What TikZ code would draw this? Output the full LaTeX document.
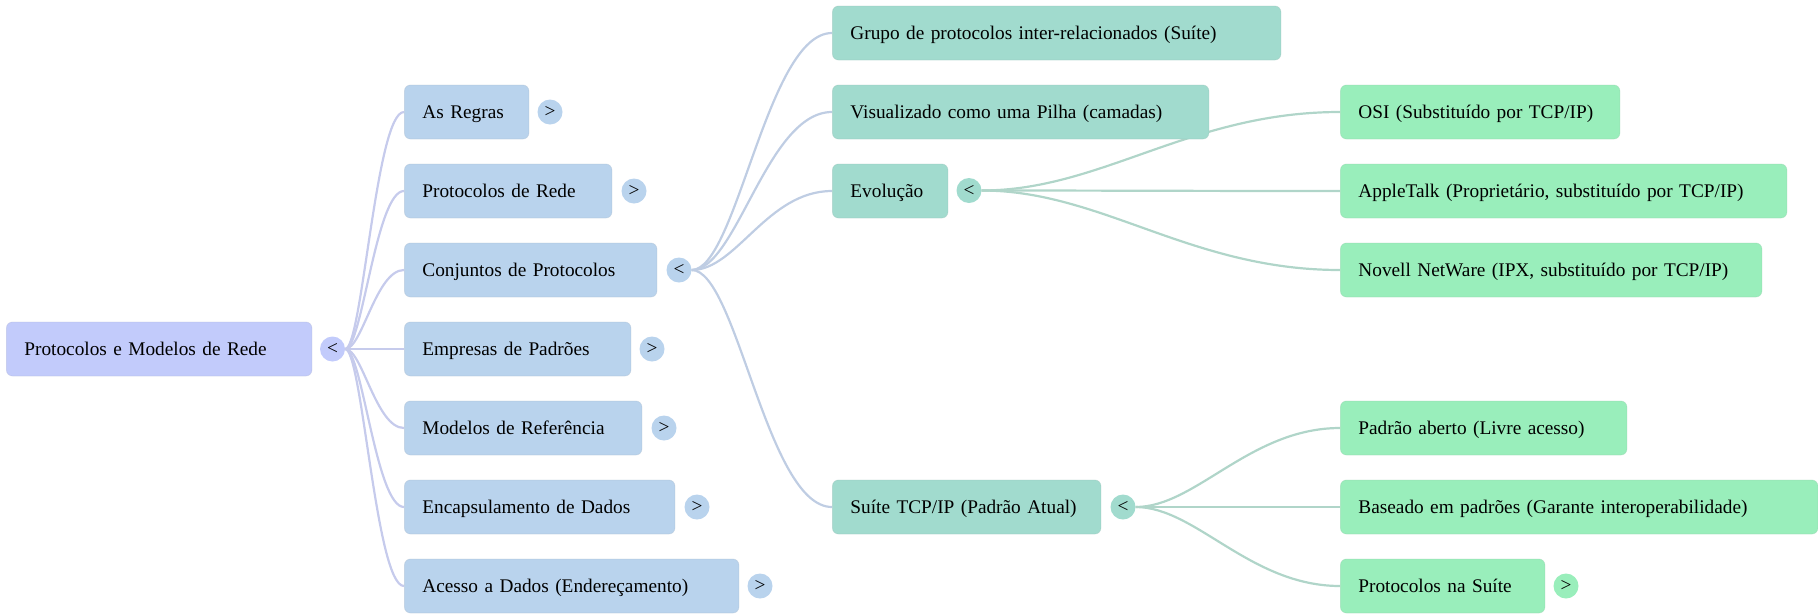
\documentclass[tikz,border=0pt]{standalone}
\usepackage{fontspec}
\setmainfont{Liberation Serif}
\definecolor{rootc}{HTML}{C2CBFB}
\definecolor{lonec}{HTML}{B9D3ED}
\definecolor{ltwoc}{HTML}{A1DBCE}
\definecolor{lthrc}{HTML}{99EEBB}
\definecolor{edgea}{HTML}{C6CBEC}
\definecolor{edgeb}{HTML}{BFCDE3}
\definecolor{edgec}{HTML}{B0D5C9}
\tikzset{
  box/.style={rectangle,rounded corners=6pt,anchor=west,minimum height=54pt,inner xsep=0pt,inner ysep=0pt,
    draw opacity=.35,line width=.8pt,align=left,font=\fontsize{19.3}{22}\selectfont,text height=16pt,text depth=4pt},
  rootbox/.style={box,fill=rootc,draw=rootc!70!gray},
  onebox/.style={box,fill=lonec,draw=lonec!70!gray},
  twobox/.style={box,fill=ltwoc,draw=ltwoc!70!gray},
  thrbox/.style={box,fill=lthrc,draw=lthrc!70!gray},
  tog/.style={circle,minimum size=25pt,inner sep=0pt,font=\fontsize{19.3}{22}\selectfont},
  rtog/.style={tog,fill=rootc},
  otog/.style={tog,fill=lonec},
  ttog/.style={tog,fill=ltwoc},
  hsg/.style={tog,fill=lthrc},
  edgeA/.style={draw=edgea,line width=2.2pt,out=0,in=180,out distance=17pt,in distance=28pt},
  edgeB/.style={draw=edgeb,line width=2.2pt,out=0,in=180,out distance=45pt,in distance=65pt},
  edgeC/.style={draw=edgec,line width=2.2pt,out=0,in=180,out distance=120pt,in distance=150pt},
  edgeD/.style={draw=edgec,line width=2.2pt,out=0,in=180,out distance=60pt,in distance=90pt},
}
\newcommand{\bx}[6]{\node[#1,minimum width=#5pt,text width=#5pt] (#2) at (#3,#4) {\hspace*{18pt}#6};}
\begin{document}
\begin{tikzpicture}[x=1pt,y=-1pt]
\useasboundingbox (0,0) rectangle (1818,614);
\node[rtog] (tr) at (332.5,349) {<};
\node[otog] (t1) at (550,112) {>};
\node[otog] (t2) at (634,191) {>};
\node[otog] (t3) at (679,270) {<};
\node[otog] (t4) at (652,349) {>};
\node[otog] (t5) at (664,428) {>};
\node[otog] (t6) at (697,507) {>};
\node[otog] (t7) at (760,586) {>};
\node[ttog] (t8) at (969,190.5) {<};
\node[ttog] (t9) at (1123,507) {<};
\node[hsg] (t10) at (1566,586) {>};
\coordinate (w1) at (404,112);\coordinate (w2) at (404,191);\coordinate (w3) at (404,270);
\coordinate (w4) at (404,349);\coordinate (w5) at (404,428);\coordinate (w6) at (404,507);\coordinate (w7) at (404,586);
\coordinate (x1) at (832,33);\coordinate (x2) at (832,112);\coordinate (x3) at (832,191);\coordinate (x4) at (832,507);
\coordinate (y1) at (1340,112);\coordinate (y2) at (1340,191);\coordinate (y3) at (1340,270);
\coordinate (z1) at (1340,428);\coordinate (z2) at (1340,507);\coordinate (z3) at (1340,586);
\foreach \n in {1,...,7} \draw[edgeA] (tr.east) to (w\n);
\foreach \n in {1,...,4} \draw[edgeB] (t3.east) to (x\n);
\foreach \n in {1,2,3} \draw[edgeC] (t8.east) to (y\n);
\foreach \n in {1,2,3} \draw[edgeD] (t9.east) to (z\n);
\bx{rootbox}{r}{6}{349}{305.5}{Protocolos e Modelos de Rede}
\bx{onebox}{a1}{404}{112}{124.5}{As Regras}
\bx{onebox}{a2}{404}{191}{207.5}{Protocolos de Rede}
\bx{onebox}{a3}{404}{270}{252.5}{Conjuntos de Protocolos}
\bx{onebox}{a4}{404}{349}{226.5}{Empresas de Padrões}
\bx{onebox}{a5}{404}{428}{237.5}{Modelos de Referência}
\bx{onebox}{a6}{404}{507}{270.5}{Encapsulamento de Dados}
\bx{onebox}{a7}{404}{586}{334.5}{Acesso a Dados (Endereçamento)}
\bx{twobox}{b1}{832}{33}{448.5}{Grupo de protocolos inter-relacionados (Suíte)}
\bx{twobox}{b2}{832}{112}{376.5}{Visualizado como uma Pilha (camadas)}
\bx{twobox}{b3}{832}{191}{115.5}{Evolução}
\bx{twobox}{b4}{832}{507}{268.5}{Suíte TCP/IP (Padrão Atual)}
\bx{thrbox}{c1}{1340}{112}{279.5}{OSI (Substituído por TCP/IP)}
\bx{thrbox}{c2}{1340}{191}{446.5}{AppleTalk (Proprietário, substituído por TCP/IP)}
\bx{thrbox}{c3}{1340}{270}{421.5}{Novell NetWare (IPX, substituído por TCP/IP)}
\bx{thrbox}{d1}{1340}{428}{286.5}{Padrão aberto (Livre acesso)}
\bx{thrbox}{d2}{1340}{507}{477.5}{Baseado em padrões (Garante interoperabilidade)}
\bx{thrbox}{d3}{1340}{586}{204.5}{Protocolos na Suíte}
\end{tikzpicture}
\end{document}
